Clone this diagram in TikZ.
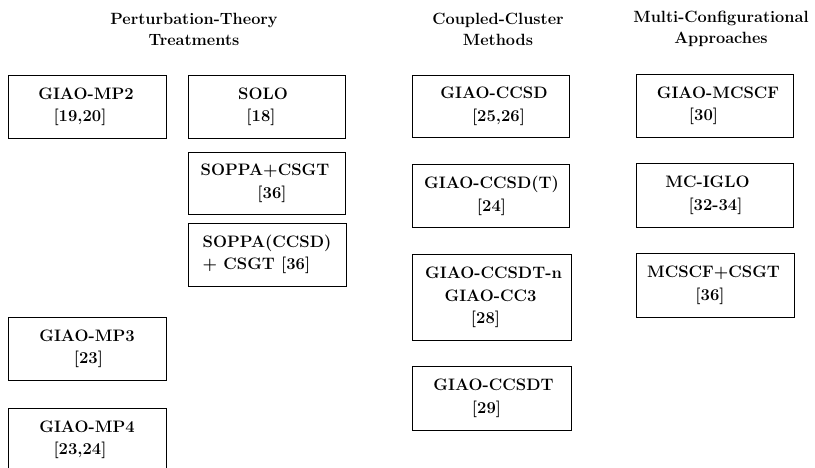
\documentclass[tikz,border=0pt]{standalone}
\newcommand{\lsh}[2]{\hspace*{#1pt}#2}
\begin{document}
\begin{tikzpicture}[x=1pt,y=-1pt,
  methodbox/.style={draw=black, line width=1pt, rectangle, inner sep=0pt,
    align=center, font=\fontsize{16.6}{22.5}\selectfont\bfseries},
  coltitle/.style={align=center, inner sep=0pt, font=\fontsize{16.3}{21}\selectfont\bfseries}]
\useasboundingbox (0,0) rectangle (815,467);
\clip (0,0) rectangle (815,467);
% column titles
\node[coltitle] (t1) at (194,29) {Perturbation-Theory\\Treatments};
\node[coltitle] (t2) at (498,29) {Coupled-Cluster\\Methods};
\node[coltitle] (t3) at (721,29) {Multi-Configurational\\Approaches};
% perturbation theory
\node[methodbox, minimum width=158pt, minimum height=63pt] (mp2) at (87,107) {\lsh{-2}{GIAO-MP2}\\{\lsh{-14}{[19,20]}}};
\node[methodbox, minimum width=157pt, minimum height=63pt] (solo) at (266.5,107) {\lsh{-7}{SOLO}\\{\lsh{-11}{[18]}}};
\node[methodbox, minimum width=157pt, minimum height=62pt] (soppa) at (266.5,183.5) {\lsh{-3}{SOPPA+CSGT}\\{\lsh{11}{[36]}}};
\node[methodbox, align=left, minimum width=158pt, minimum height=63pt] (soppacc) at (267,254.5) {SOPPA(CCSD)\\+ CSGT [36]};
\node[methodbox, minimum width=158pt, minimum height=63pt] (mp3) at (87,349) {GIAO-MP3\\{\lsh{3}{[23]}}};
\node[methodbox, minimum width=158pt, minimum height=63pt] (mp4) at (87,440) {GIAO-MP4\\{\lsh{-14}{[23,24]}}};
% coupled cluster
\node[methodbox, minimum width=157pt, minimum height=62pt] (ccsd) at (490.5,106.5) {\lsh{7}{GIAO-CCSD}\\{\lsh{16}{[25,26]}}};
\node[methodbox, minimum width=157pt, minimum height=63pt] (ccsdpt) at (490.5,196) {\lsh{2}{GIAO-CCSD(T)}\\{\lsh{2}{[24]}}};
\node[methodbox, minimum width=159pt, minimum height=86pt] (ccsdtn) at (491.5,297.5) {\lsh{4}{GIAO-CCSDT-n}\\\lsh{-2}{GIAO-CC3}\\{\lsh{-12}{[28]}}};
\node[methodbox, minimum width=159pt, minimum height=64pt] (ccsdt) at (491.5,398.5) {\lsh{4}{GIAO-CCSDT}\\{\lsh{-10}{[29]}}};
% multi-configurational
\node[methodbox, minimum width=157pt, minimum height=63pt] (mcscf) at (714.5,106) {\lsh{7}{GIAO-MCSCF}\\{\lsh{-22}{[30]}}};
\node[methodbox, minimum width=157pt, minimum height=64pt] (mciglo) at (714.5,195.5) {\lsh{-14}{MC-IGLO}\\{\lsh{2}{[32-34]}}};
\node[methodbox, minimum width=158pt, minimum height=64pt] (mccsgt) at (715,285.5) {\lsh{-3}{MCSCF+CSGT}\\{\lsh{-10}{[36]}}};
\end{tikzpicture}
\end{document}
